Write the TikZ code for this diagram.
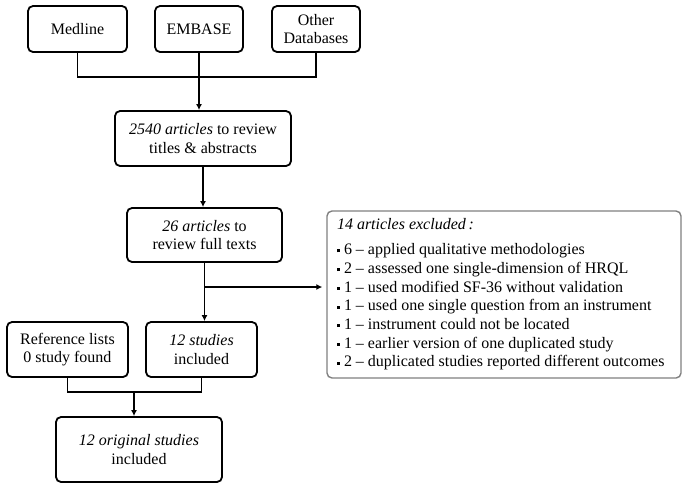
\documentclass[tikz,border=0pt]{standalone}
\usepackage{fontspec}
\setmainfont{Liberation Serif}
\usetikzlibrary{arrows.meta}
\newcommand\blt{\raisebox{0.3ex}{\rule{3pt}{3pt}}\ }
\begin{document}
\begin{tikzpicture}[x=1pt,y=-1pt,
  box/.style={draw=black,line width=1.8pt,rounded corners=5pt,align=center,inner sep=0pt,
    font=\fontsize{16}{18.5}\selectfont},
  exbox/.style={draw=black!50,line width=1.4pt,rounded corners=5pt,align=left,inner sep=0pt},
  conn/.style={line width=1.8pt},
  arr/.style={line width=1.8pt,-{Latex[length=6pt,width=6pt]}}]
\useasboundingbox (0,0) rectangle (685,488);
\node[box,minimum width=99pt,minimum height=46pt] (med) at (77.5,29) {Medline};
\node[box,minimum width=88pt,minimum height=46pt] (emb) at (199,29) {EMBASE};
\node[box,minimum width=88pt,minimum height=46pt] (oth) at (316,29) {Other\\Databases};
\node[box,minimum width=176pt,minimum height=55pt] (a2540) at (203,138.5) {\textit{2540 articles} to review\\titles \& abstracts};
\node[box,minimum width=155pt,minimum height=54pt] (a26) at (204.5,235) {\textit{26 articles} to\\review full texts};
\node[exbox,minimum width=354pt,minimum height=167pt] (excl) at (504,294.5) {%
\begin{minipage}{334pt}\fontsize{16}{18.7}\selectfont
\textit{14 articles excluded\,:}\\[6pt]
\blt 6 -- applied qualitative methodologies\\
\blt 2 -- assessed one single-dimension of HRQL\\
\blt 1 -- used modified SF-36 without validation\\
\blt 1 -- used one single question from an instrument\\
\blt 1 -- instrument could not be located\\
\blt 1 -- earlier version of one duplicated study\\
\blt 2 -- duplicated studies reported different outcomes
\end{minipage}};
\node[box,minimum width=111pt,minimum height=55pt] (s12) at (201.5,349.5) {\textit{12 studies}\\included};
\node[box,minimum width=121pt,minimum height=55pt] (ref) at (67.5,349.5) {Reference lists\\0 study found};
\node[box,minimum width=166pt,minimum height=65pt] (orig) at (139,449.5) {\textit{12 original studies}\\included};
\coordinate (j1) at (199,77);
\coordinate (br) at (a26.south |- 0,287);
\coordinate (j2) at (134,392);
\draw[conn] (med.south) |- (oth.south |- j1) -- (oth.south);
\draw[arr] (emb.south) -- (emb.south |- a2540.north);
\draw[arr] (a2540.south) -- (a2540.south |- a26.north);
\draw[arr] (a26.south) -- (a26.south |- s12.north);
\draw[arr,shorten >=4pt] (br) -- (br -| excl.west);
\draw[conn] (ref.south) |- (s12.south |- j2) -- (s12.south);
\draw[arr] (j2) -- (j2 |- orig.north);
\end{tikzpicture}
\end{document}
